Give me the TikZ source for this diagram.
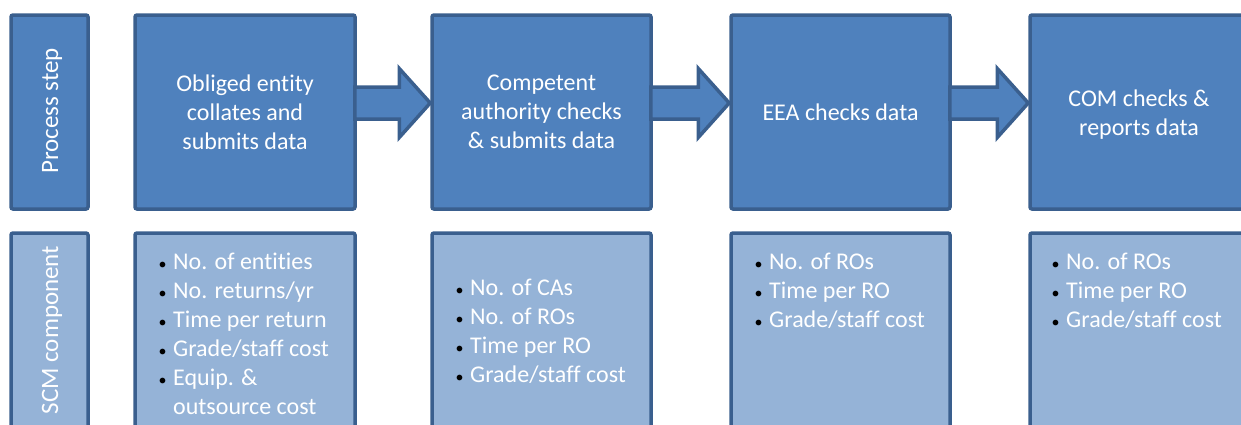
\documentclass[tikz,border=0pt]{standalone}
\usepackage{fontspec}
\setmainfont{Carlito}[Ligatures=NoCommon]
\usetikzlibrary{calc}
\definecolor{topc}{HTML}{4F81BD}
\definecolor{botc}{HTML}{95B3D7}
\definecolor{bordc}{HTML}{3A5F8E}
\newcommand\blt{\makebox[15pt][l]{\hspace{0.5pt}\color{black}{\fontsize{16}{16}\selectfont\textbullet}}}
\newcommand\flowarrow[2]{%
  \draw[arrowst] ($(#1.east)+(-2,-25)$) -- ($(#2.west)+(-31,-25)$) -- ($(#2.west)+(-31,-43.5)$)
    -- ($(#2.west)+(0,-9)$) -- ($(#2.west)+(-31,25.5)$) -- ($(#2.west)+(-31,7)$)
    -- ($(#1.east)+(-2,7)$) -- cycle;}
\begin{document}
\begin{tikzpicture}[x=1pt,y=-1pt,
  basebox/.style={draw=bordc, line width=3.5pt, rounded corners=2pt, inner sep=0pt},
  topbox/.style={basebox, fill=topc, minimum height=194pt, text=white, align=center,
    font=\fontsize{24}{29}\selectfont},
  botbox/.style={basebox, fill=botc, minimum height=240pt},
  sidelabel/.style={rotate=90, text=white, font=\fontsize{25}{29}\selectfont},
  listtxt/.style={anchor=north west, inner sep=0pt, align=left, text=white,
    font=\fontsize{24}{29}\selectfont},
  arrowst/.style={draw=bordc, fill=topc, line width=3.5pt, line join=miter}]
\useasboundingbox (0,0) rectangle (1241,424);
\clip (0,0) rectangle (1241,424);
% top row
\node[topbox, minimum width=77pt] (ps) at (49.5,112) {};
\node[sidelabel] (pslab) at (52,111) {Process step};
\node[topbox, minimum width=220pt] (b1) at (245,112) {Obliged entity\\collates and\\submits data};
\node[topbox, minimum width=219pt] (b2) at (541.5,112) {Competent\\authority checks\\\& submits data};
\node[topbox, minimum width=219pt] (b3) at (840.5,112) {EEA checks data};
\node[topbox, minimum width=220pt] (b4) at (1140,112) {};
\node[text=white, align=center, font=\fontsize{24}{29}\selectfont, inner sep=0pt] (b4t) at (1139,114.5) {COM checks \&\\reports data};
\flowarrow{b1}{b2}
\flowarrow{b2}{b3}
\flowarrow{b3}{b4}
% bottom row
\node[botbox, minimum width=77pt] (scm) at (49.5,353) {};
\node[sidelabel] (scmlab) at (52,330) {SCM component};
\node[botbox, minimum width=220pt] (c1) at (245,353) {};
\node[botbox, minimum width=219pt] (c2) at (541.5,353) {};
\node[botbox, minimum width=219pt] (c3) at (840.5,353) {};
\node[botbox, minimum width=220pt] (c4) at (1140,353) {};
\node[listtxt] (l1) at (158,252.5) {\blt No. of entities\\\blt No. returns/yr\\\blt Time per return\\\blt Grade/staff cost\\\blt Equip. \&\\\makebox[15pt]{}outsource cost};
\node[listtxt] (l2) at (455,278.5) {\blt No. of CAs\\\blt No. of ROs\\\blt Time per RO\\\blt Grade/staff cost};
\node[listtxt] (l3) at (754,252.5) {\blt No. of ROs\\\blt Time per RO\\\blt Grade/staff cost};
\node[listtxt] (l4) at (1051,252.5) {\blt No. of ROs\\\blt Time per RO\\\blt Grade/staff cost};
\end{tikzpicture}
\end{document}
